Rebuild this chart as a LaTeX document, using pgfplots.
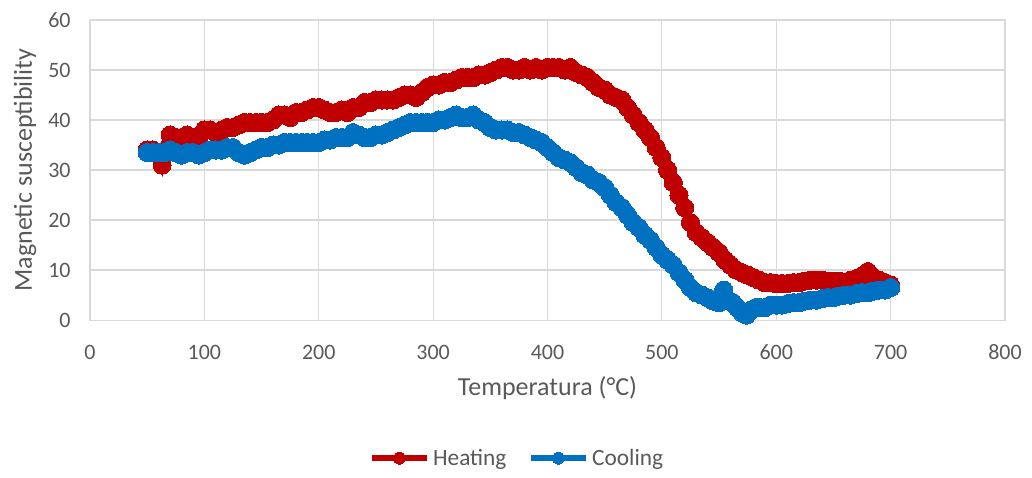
\documentclass[border=0pt]{standalone}
\usepackage{pgfplots}
\pgfplotsset{compat=1.18}
\usepackage{fontspec}
\setmainfont{Carlito}
\definecolor{heat}{HTML}{C00000}
\definecolor{cool}{HTML}{0070C0}
\definecolor{txt}{HTML}{595959}
\definecolor{grd}{HTML}{D9D9D9}

\pgfplotstableread{
T S
50 34
55 34
60 33
63 31
66 34
70 37
75 36.5
80 36
85 37
90 36.5
95 36.5
100 38
105 38
110 37.5
115 38
120 38.5
125 38.5
130 39
135 39.5
140 39.5
145 39.5
150 39.5
155 39.5
160 40
165 41
170 41
175 40.5
180 41.5
185 41.5
190 42
195 42.5
200 42.5
205 42
210 41.5
215 41.5
220 42
225 41.5
230 42.5
235 42.5
240 43.5
245 43.5
250 44
255 44
260 44
265 44
270 44.5
275 45
280 45
285 44.5
290 45.5
295 46.5
300 47
305 47
310 47.5
315 47.5
320 48
325 48.5
330 48.5
335 48.5
340 49
345 49
350 49.5
355 50
360 50.5
365 50.5
370 50
375 50
380 50.5
385 50
390 50.5
395 50
400 50.5
405 50.5
410 50.5
415 50
420 50.5
425 49.5
430 49
435 48.5
440 47.5
445 46.5
450 46
455 45
460 44.5
465 44
470 42.5
475 41
480 39.5
485 38
490 36.5
495 34.5
500 32.5
505 30
510 27.5
515 25
520 22.5
525 19.5
530 17.5
535 16.5
540 15.5
545 14.5
550 13.5
555 12
560 11
565 10
570 9.5
575 9
580 8.5
585 8
590 7.5
595 7.5
600 7.3
605 7.3
610 7.3
615 7.5
620 7.5
625 7.8
630 8
635 8
640 8
645 7.8
650 7.8
655 7.8
660 7.5
665 8
670 8.3
675 8.8
680 9.7
685 8.5
690 8
695 7.5
700 7
}\heating

\pgfplotstableread{
T S
50 33.5
55 33.5
60 33.5
65 33.5
70 34
75 33.5
80 33
85 33.5
90 33.5
95 33
100 33.5
105 34
110 34
115 34
120 34.5
125 34.5
130 33.5
135 33
140 33.5
145 34
150 34.5
155 34.5
160 35
165 35
170 35.5
175 35.5
180 35.5
185 35.5
190 35.5
195 35.5
200 35.5
205 36
210 36
215 36.5
220 36.5
225 36.5
230 37.5
235 37
240 36.5
245 36.5
250 37
255 37
260 37.5
265 38
270 38.5
275 39
280 39.5
285 39.5
290 39.5
295 39.5
300 39.5
305 40
310 40
315 40.5
320 41
325 40.5
330 40.5
335 41
340 40
345 39.5
350 38.5
355 38
360 38
365 38
370 37.5
375 37.5
380 37
385 36.5
390 36
395 35.5
400 34.5
405 33.5
410 32.5
415 32
420 31.5
425 30.5
430 29.5
435 29
440 28
445 27.5
450 26.5
455 25
460 23.5
465 22.5
470 21
475 19.5
480 18.5
485 17
490 16
495 14.5
500 13
505 12
510 11
515 9.5
520 8
525 6.5
530 5.5
535 5
540 4.5
545 3.8
550 3.5
554 6
558 4
562 3.5
566 2.5
570 1.5
574 1
578 2
582 2.5
586 2.5
590 2.5
595 3
600 3
605 3
610 3.3
615 3.5
620 3.5
625 3.8
630 4
635 4
640 4.3
645 4.5
650 4.5
655 4.8
660 5
665 5
670 5.3
675 5.5
680 5.5
685 5.8
690 6
695 6
700 6.5
}\cooling

\begin{document}
\begin{tikzpicture}
\begin{axis}[
    scale only axis,
    width=686pt, height=225pt,
    xmin=0, xmax=800, ymin=0, ymax=60,
    xtick={0,100,...,800},
    ytick={0,10,...,60},
    grid=major,
    major grid style={draw=grd, line width=0.9pt},
    axis line style={draw=grd, line width=0.9pt},
    tick style={draw=none},
    /pgf/number format/assume math mode=true,
    tick label style={font=\fontsize{16.5}{19}\selectfont, text=txt},
    xticklabel style={yshift=-15pt},
    yticklabel style={xshift=-11pt},
    label style={font=\fontsize{19.5}{22}\selectfont, text=txt},
    xlabel={Temperatura (°C)},
    ylabel={Magnetic susceptibility},
    xlabel style={at={(axis description cs:0.5,-0.227)}, anchor=center},
    ylabel style={at={(axis description cs:-0.071,0.5)}, anchor=center},
    legend columns=2,
    legend style={at={(0.467,-0.46)}, anchor=center, draw=none,
        font=\fontsize{17.5}{20}\selectfont, text=txt,
        /tikz/every even column/.append style={column sep=14pt}},
    legend image code/.code={\draw[mark repeat=2,mark phase=2,#1,mark size=4.5pt]
        plot coordinates {(0cm,0cm) (0.72cm,0cm) (1.45cm,0cm)};},
    clip=false,
]
\addplot[heat, line width=5pt, mark=*, mark size=6.8pt, mark options={line width=0pt}] table[x=T,y=S] {\heating};
\addlegendentry{Heating}
\addplot[cool, line width=5pt, mark=*, mark size=6.8pt, mark options={line width=0pt}] table[x=T,y=S] {\cooling};
\addlegendentry{Cooling}
\end{axis}
\path (-67.5pt,-117.75pt) rectangle (706.25pt,240pt);
\end{tikzpicture}
\end{document}
